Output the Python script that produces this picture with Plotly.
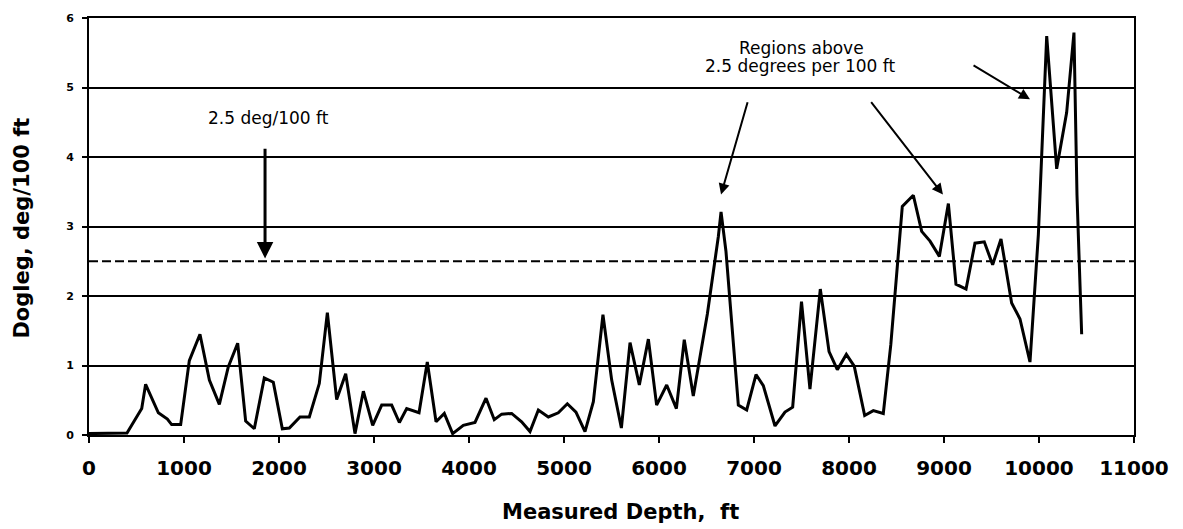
import plotly.graph_objects as go

# ---- data ----
depth_ft = [0, 400, 555, 596, 730, 825, 870, 965, 1056, 1168, 1267, 1372, 1466, 1565,
            1649, 1740, 1845, 1940, 2035, 2109, 2221, 2319, 2424, 2509, 2607, 2702,
            2800, 2888, 2986, 3081, 3186, 3267, 3344, 3474, 3561, 3653, 3740, 3828,
            3940, 4063, 4179, 4266, 4344, 4449, 4554, 4642, 4730, 4835, 4940, 5035,
            5126, 5221, 5309, 5410, 5502, 5604, 5695, 5793, 5888, 5975, 6081, 6183,
            6266, 6361, 6509, 6625, 6653, 6705, 6835, 6923, 7021, 7098, 7221, 7326,
            7407, 7500, 7589, 7698, 7790, 7877, 7972, 8055, 8165, 8256, 8361, 8440,
            8561, 8677, 8765, 8853, 8951, 9046, 9126, 9232, 9326, 9424, 9512, 9600,
            9712, 9800, 9905, 9993, 10081, 10186, 10291, 10368, 10400, 10449]
dogleg = [0.02, 0.03, 0.38, 0.73, 0.32, 0.23, 0.15, 0.15, 1.07, 1.45, 0.79, 0.44, 0.98, 1.32,
          0.20, 0.09, 0.82, 0.76, 0.09, 0.10, 0.26, 0.26, 0.74, 1.76, 0.51, 0.88,
          0.02, 0.63, 0.14, 0.43, 0.43, 0.18, 0.38, 0.32, 1.05, 0.19, 0.31, 0.02,
          0.14, 0.18, 0.53, 0.22, 0.30, 0.31, 0.19, 0.05, 0.36, 0.26, 0.32, 0.45,
          0.33, 0.05, 0.48, 1.73, 0.79, 0.10, 1.33, 0.72, 1.38, 0.43, 0.72, 0.38,
          1.37, 0.56, 1.74, 2.86, 3.21, 2.64, 0.43, 0.36, 0.87, 0.71, 0.13, 0.33,
          0.40, 1.92, 0.66, 2.10, 1.20, 0.94, 1.16, 0.99, 0.28, 0.35, 0.31, 1.30,
          3.29, 3.45, 2.93, 2.79, 2.57, 3.33, 2.17, 2.10, 2.76, 2.78, 2.45, 2.82,
          1.90, 1.67, 1.05, 2.88, 5.74, 3.83, 4.64, 5.79, 3.45, 1.45]

threshold = 2.5
x_ticks = list(range(0, 11001, 1000))
y_ticks = [0, 1, 2, 3, 4, 5, 6]

# annotation arrows: (tail_x, tail_y, head_x, head_y, width)
arrows = [
    (1853, 4.14, 1853, 2.54, 3),
    (6937, 4.81, 6653, 3.46, 2),
    (8221, 4.81, 8989, 3.46, 2),
    (9295, 5.33, 9905, 4.83, 2),
]

fig = go.Figure()
fig.add_trace(go.Scatter(x=depth_ft, y=dogleg, mode="lines",
                         line=dict(color="black", width=3), showlegend=False,
                         hoverinfo="skip"))

fig.add_shape(type="line", xref="paper", x0=0, x1=1, yref="y", y0=threshold, y1=threshold,
              line=dict(color="black", width=2, dash="9px,4px"))

annotations = []
for tx, ty, hx, hy, w in arrows:
    annotations.append(dict(x=hx, y=hy, xref="x", yref="y", ax=tx, ay=ty,
                            axref="x", ayref="y", text="", showarrow=True,
                            arrowhead=2, arrowsize=1.1, arrowwidth=w,
                            arrowcolor="black"))

txt_font = dict(family="DejaVu Sans", size=17, color="black")
annotations += [
    dict(x=(268 - 89) / 0.095, y=(435 - 116) / 70, xref="x", yref="y", text="2.5 deg/100 ft",
         showarrow=False, font=txt_font, xanchor="center", yanchor="middle"),
    dict(x=(801 - 89) / 0.095, y=(435 - 45) / 70, xref="x", yref="y", text="Regions above",
         showarrow=False, font=txt_font, xanchor="center", yanchor="middle"),
    dict(x=(800 - 89) / 0.095, y=(435 - 63) / 70, xref="x", yref="y",
         text="2.5 degrees per 100 ft",
         showarrow=False, font=txt_font, xanchor="center", yanchor="middle"),
    dict(x=0.509, y=0, xref="paper", yref="paper", text="Measured Depth,\u00a0 ft",
         showarrow=False, yshift=-77, xanchor="center", yanchor="middle",
         font=dict(family="DejaVu Sans", size=21, color="black", weight="bold")),
    dict(x=0, y=0.495, xref="paper", yref="paper", text="Dogleg, deg/100 ft",
         showarrow=False, xshift=-67, textangle=-90, xanchor="center", yanchor="middle",
         font=dict(family="DejaVu Sans", size=21, color="black", weight="bold")),
]

fig.update_layout(
    width=1183, height=529,
    margin=dict(l=89, r=49, t=15, b=94),
    paper_bgcolor="white", plot_bgcolor="white",
    annotations=annotations,
    xaxis=dict(range=[0, 11000], tickvals=x_ticks, ticktext=[str(v) for v in x_ticks],
               showgrid=False, zeroline=False, showline=True, linecolor="black",
               linewidth=2, mirror=True, ticks="outside", ticklen=6, tickwidth=1.5,
               tickcolor="black", ticklabelstandoff=8,
               tickfont=dict(family="DejaVu Sans", size=20, color="black", weight="bold")),
    yaxis=dict(range=[0, 6], tickvals=y_ticks, showgrid=True, gridcolor="black",
               gridwidth=1.5, zeroline=False, showline=True, linecolor="black",
               linewidth=2, mirror=True, ticks="outside", ticklen=5, tickwidth=1.5,
               tickcolor="black", ticklabelstandoff=6,
               tickfont=dict(family="DejaVu Sans", size=11, color="black", weight="bold")),
)

fig.write_html("out.html")
